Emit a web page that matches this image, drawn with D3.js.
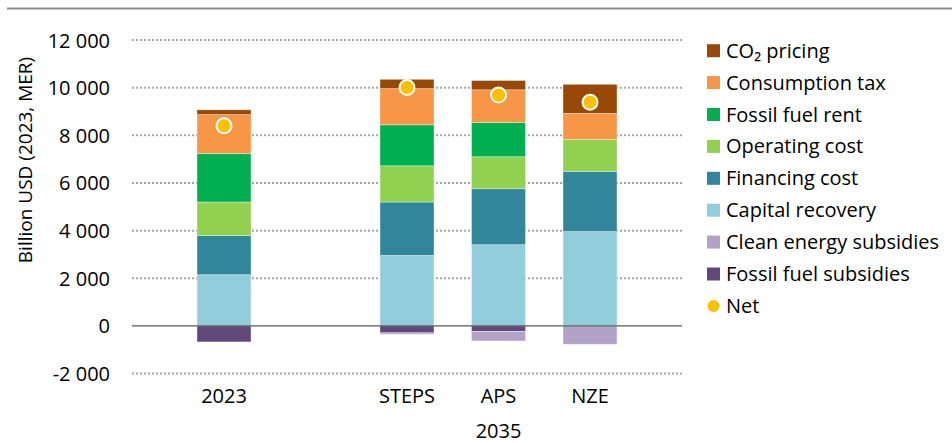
<!DOCTYPE html>
<html>
<head>
<meta charset="utf-8">
<script src="https://cdn.jsdelivr.net/npm/d3@7"></script>
<style>
  html, body { margin: 0; padding: 0; background: #fff; }
  svg { display: block; font-family: "Open Sans", Lato, sans-serif; }
</style>
</head>
<body>
<svg id="chart" width="952" height="443"></svg>
<script>
// ---- Data ----
const categories = ["2023", "", "STEPS", "APS", "NZE"];
const groupLabel = "2035";
const seriesNames = ["Capital recovery", "Financing cost", "Operating cost", "Fossil fuel rent", "Consumption tax", "CO₂ pricing"];
const negSeriesNames = ["Fossil fuel subsidies", "Clean energy subsidies"];
const capitalRecovery = [2150, null, 2960, 3410, 3960];
const financingCost   = [1640, null, 2240, 2350, 2530];
const operatingCost   = [1410, null, 1520, 1340, 1340];
const fossilFuelRent  = [2030, null, 1720, 1440, 0];
const consumptionTax  = [1640, null, 1520, 1370, 1090];
const co2Pricing      = [200,  null, 390,  390,  1220];
const fossilFuelSubs  = [-670, null, -290, -230, 0];
const cleanEnergySubs = [0,    null, -60,  -400, -770];
const net             = [8400, null, 10010, 9690, 9390];
const yTicks = [-2000, 0, 2000, 4000, 6000, 8000, 10000, 12000];
const legendItems = ["CO₂ pricing", "Consumption tax", "Fossil fuel rent", "Operating cost", "Financing cost", "Capital recovery", "Clean energy subsidies", "Fossil fuel subsidies", "Net"];

const colors = {
  "CO₂ pricing": "#984807",
  "Consumption tax": "#F79646",
  "Fossil fuel rent": "#00B050",
  "Operating cost": "#92D050",
  "Financing cost": "#31869B",
  "Capital recovery": "#92CDDC",
  "Clean energy subsidies": "#B3A2C7",
  "Fossil fuel subsidies": "#60497A",
  "Net": "#FFC000"
};

const posValues = [capitalRecovery, financingCost, operatingCost, fossilFuelRent, consumptionTax, co2Pricing];
const negValues = [fossilFuelSubs, cleanEnergySubs];

const FS = 20;

// ---- Scales ----
const svg = d3.select("#chart");
const plotLeft = 132, plotRight = 682;
const x = d3.scaleBand().domain(categories.map((c, i) => i)).range([178.25, 635.75]).paddingInner(0.41).paddingOuter(0.205);
const y = d3.scaleLinear().domain([-2000, 12000]).range([373.6, 40]);

// top border line
svg.append("line").attr("x1", 7).attr("x2", 952).attr("y1", 8.5).attr("y2", 8.5)
  .attr("stroke", "#8c8c8c").attr("stroke-width", 2);

// gridlines
svg.append("g").selectAll("line").data(yTicks.filter(t => t !== 0)).join("line")
  .attr("x1", plotLeft).attr("x2", plotRight)
  .attr("y1", d => y(d)).attr("y2", d => y(d))
  .attr("stroke", "#a6a6a6").attr("stroke-width", 2).attr("stroke-dasharray", "2,2");

// y axis labels
const yAxis = d3.axisLeft(y).tickValues(yTicks).tickSize(0).tickPadding(0)
  .tickFormat(d => d3.format(",")(d).replace(/,/g, " ").replace("−", "-"));
const yg = svg.append("g").attr("transform", `translate(110,0)`).call(yAxis);
yg.select(".domain").remove();
yg.selectAll("text").attr("font-size", FS).attr("fill", "#000").attr("font-family", "'Open Sans', sans-serif").attr("dy", "0.35em");

// axis title
svg.append("text").attr("transform", "translate(32,160) rotate(-90)")
  .attr("text-anchor", "middle").attr("font-size", 19).attr("fill", "#000")
  .text("Billion USD (2023, MER)");

// bars
const barsG = svg.append("g");
categories.forEach((c, i) => {
  if (capitalRecovery[i] === null) return;
  let base = 0;
  posValues.forEach((arr, s) => {
    const v = arr[i];
    if (v > 0) {
      barsG.append("rect").attr("x", x(i)).attr("width", x.bandwidth())
        .attr("y", y(base + v)).attr("height", y(base) - y(base + v))
        .attr("fill", colors[seriesNames[s]])
        .attr("stroke", "#fff").attr("stroke-opacity", 0.45).attr("stroke-width", 0.8);
    }
    base += v;
  });
  let nbase = 0;
  negValues.forEach((arr, s) => {
    const v = arr[i];
    if (v < 0) {
      barsG.append("rect").attr("x", x(i)).attr("width", x.bandwidth())
        .attr("y", y(nbase)).attr("height", y(nbase + v) - y(nbase))
        .attr("fill", colors[negSeriesNames[s]])
        .attr("stroke", "#fff").attr("stroke-opacity", 0.45).attr("stroke-width", 0.8);
    }
    nbase += v;
  });
});

// zero line
svg.append("line").attr("x1", plotLeft).attr("x2", plotRight).attr("y1", y(0)).attr("y2", y(0))
  .attr("stroke", "#595959").attr("stroke-width", 1.3);

// net dots
svg.append("g").selectAll("circle").data(net.map((v, i) => ({v, i})).filter(d => d.v !== null)).join("circle")
  .attr("cx", d => x(d.i) + x.bandwidth() / 2).attr("cy", d => y(d.v)).attr("r", 7.5)
  .attr("fill", colors["Net"]).attr("stroke", "#fff").attr("stroke-width", 2);

// x labels
svg.append("g").selectAll("text").data(categories.map((c, i) => ({c, i})).filter(d => d.c !== "")).join("text")
  .attr("x", d => x(d.i) + x.bandwidth() / 2).attr("y", 403)
  .attr("text-anchor", "middle").attr("font-size", FS).attr("fill", "#000")
  .text(d => d.c);
svg.append("text").attr("x", x(3) + x.bandwidth() / 2).attr("y", 438)
  .attr("text-anchor", "middle").attr("font-size", FS).attr("fill", "#000").text(groupLabel);

// legend
const lg = svg.append("g");
legendItems.forEach((name, i) => {
  const cy = 50.7 + i * 31.9;
  if (name === "Net") {
    lg.append("circle").attr("cx", 713.5).attr("cy", cy).attr("r", 6).attr("fill", colors[name]);
  } else {
    lg.append("rect").attr("x", 707).attr("y", cy - 6.5).attr("width", 13).attr("height", 13).attr("fill", colors[name]);
  }
  lg.append("text").attr("x", 726).attr("y", cy).attr("dy", "0.35em")
    .attr("font-size", FS).attr("fill", "#000").text(name);
});
</script>
</body>
</html>
